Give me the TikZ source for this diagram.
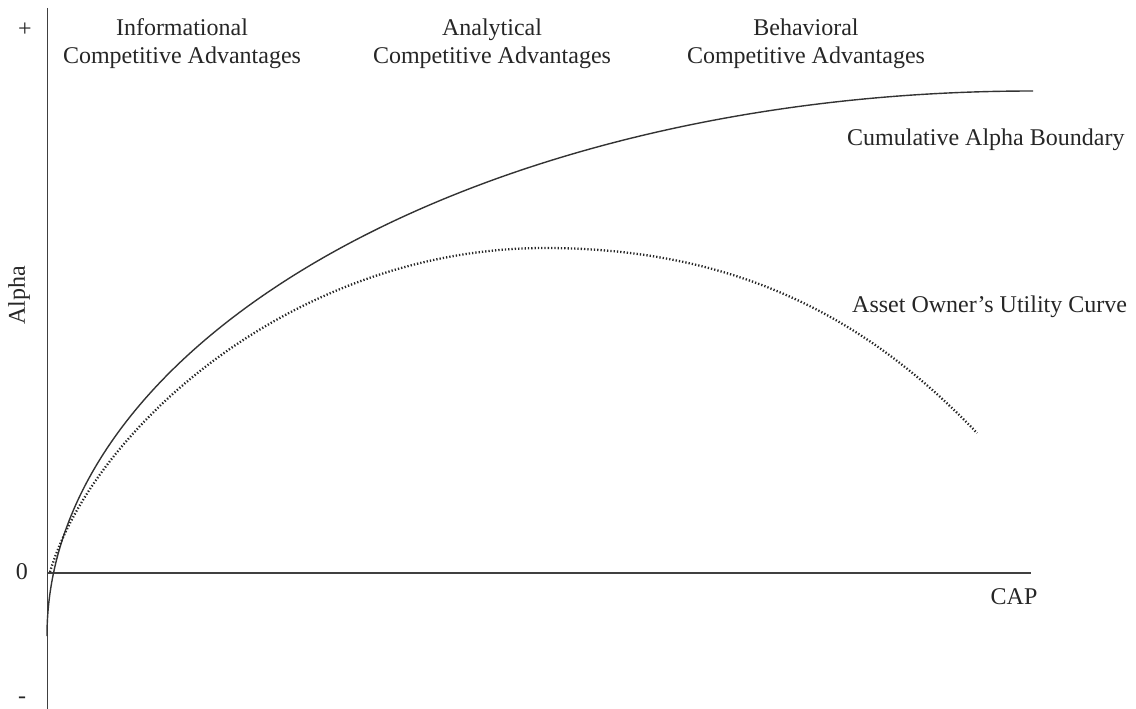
\documentclass[tikz,border=0pt]{standalone}
\usepackage{fontspec}
\setmainfont{Liberation Serif}
\begin{document}
\begin{tikzpicture}[x=1pt,y=-1pt,
  lbl/.style={font=\fontsize{24}{28}\selectfont, inner sep=0pt, text=black!85},
  axisline/.style={line width=1.6pt, draw=black!75},
  boundary/.style={line width=1.4pt, draw=black!80},
  utility/.style={line width=2.3pt, draw=black!85, dash pattern=on 1.3pt off 2pt}]
\useasboundingbox (0,0) rectangle (1136,709);
% axes
\coordinate (ytop) at (47.5,8);
\coordinate (ybot) at (47.5,709);
\coordinate (xleft) at (47.5,573);
\coordinate (xright) at (1031,573);
\draw[axisline] (ytop) -- (ybot);
\draw[axisline] (xleft) -- (xright);
% axis labels
\node[lbl] (plus) at (25,30) {+};
\node[lbl] (zero) at (22,572) {0};
\node[lbl] (minus) at (22,700) {-};
\node[lbl, rotate=90] (alpha) at (19,295) {Alpha};
\node[lbl, anchor=base] (cap) at (1014,604) {CAP};
% top labels
\node[lbl, align=center] (info) at (182,44) {Informational\\Competitive Advantages};
\node[lbl, align=center] (anal) at (492,44) {Analytical\\Competitive Advantages};
\node[lbl, align=center] (behav) at (806,44) {Behavioral\\Competitive Advantages};
% curve labels
\node[lbl, anchor=base west] (cab) at (847,146) {Cumulative Alpha Boundary};
\node[lbl, anchor=base west] (aouc) at (852,312) {Asset Owner’s Utility Curve};
% curves
\coordinate (cabstart) at (47,636);
\coordinate (utstart) at (50,572);
\coordinate (utpeak) at (545,248);
\coordinate (utend) at (977,433);
\draw[boundary] (cabstart) arc[start angle=180, end angle=270, x radius=986, y radius=545];
\draw[utility] (utstart) .. controls (93,428) and (295,248) .. (utpeak)
  .. controls (745,248) and (873.5,325) .. (utend);
\end{tikzpicture}
\end{document}
